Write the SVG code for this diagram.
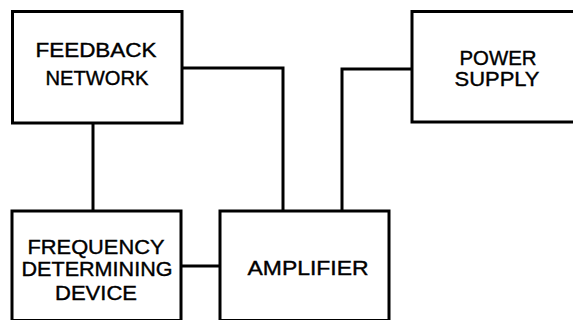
<svg xmlns="http://www.w3.org/2000/svg" width="573" height="320" viewBox="0 0 573 320">
<style>
.box{fill:#fff;stroke:#000;stroke-width:3}
.wire{fill:none;stroke:#000;stroke-width:3;stroke-linejoin:miter}
.lbl{font-family:"Liberation Sans",Arial,sans-serif;font-size:21px;fill:#000;stroke:#000;stroke-width:0.4;text-anchor:middle}
</style>
<rect width="573" height="320" fill="#fff"/>
<g id="connectors">
<path class="wire" d="M182,68 H283 V211"/>
<path class="wire" d="M412,69 H342 V211"/>
<path class="wire" d="M93,123 V211"/>
<path class="wire" d="M181,266 H220"/>
</g>
<g id="feedback-network">
<rect class="box" x="12.5" y="11.5" width="169.5" height="111.5"/>
<text class="lbl" x="96" y="57" textLength="121" lengthAdjust="spacingAndGlyphs">FEEDBACK</text>
<text class="lbl" x="97" y="85" textLength="103" lengthAdjust="spacingAndGlyphs">NETWORK</text>
</g>
<g id="power-supply">
<rect class="box" x="412" y="11.5" width="170" height="110.5"/>
<text class="lbl" x="498" y="65" textLength="77" lengthAdjust="spacingAndGlyphs">POWER</text>
<text class="lbl" x="497" y="86" textLength="85" lengthAdjust="spacingAndGlyphs">SUPPLY</text>
</g>
<g id="frequency-determining-device">
<rect class="box" x="12" y="211" width="169" height="109.5"/>
<text class="lbl" x="96" y="254" textLength="137" lengthAdjust="spacingAndGlyphs">FREQUENCY</text>
<text class="lbl" x="97" y="276" textLength="151" lengthAdjust="spacingAndGlyphs">DETERMINING</text>
<text class="lbl" x="96" y="300" textLength="82" lengthAdjust="spacingAndGlyphs">DEVICE</text>
</g>
<g id="amplifier">
<rect class="box" x="220" y="211" width="169" height="109.5"/>
<text class="lbl" x="308" y="275" textLength="121" lengthAdjust="spacingAndGlyphs">AMPLIFIER</text>
</g>
</svg>
